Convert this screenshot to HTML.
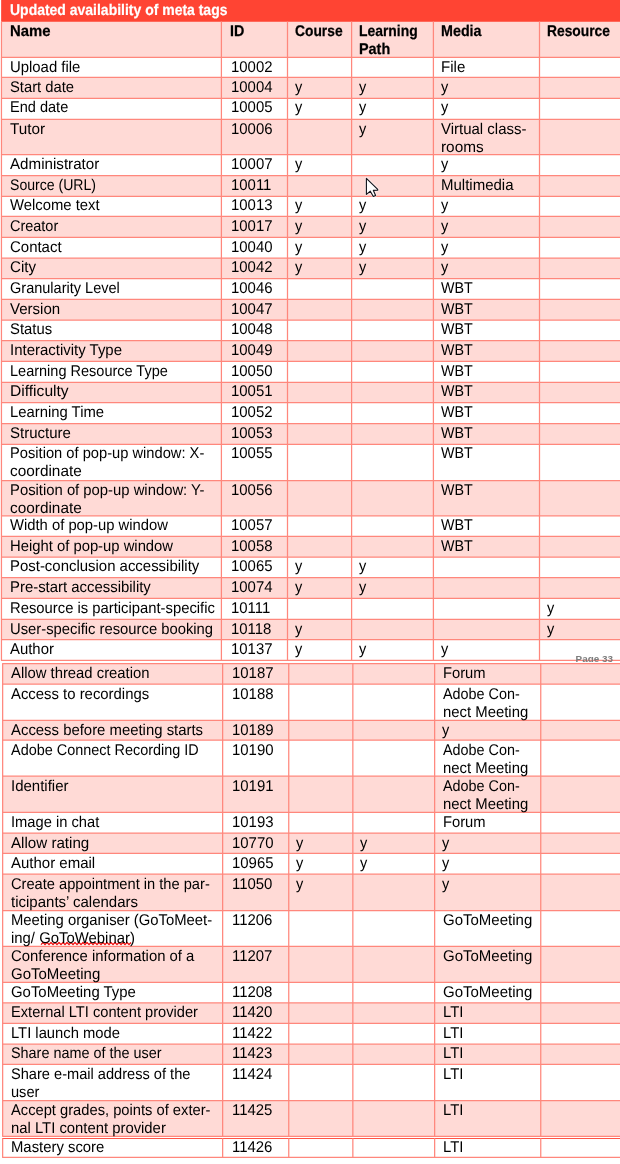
<!DOCTYPE html>
<html lang="en"><head><meta charset="utf-8"><title>Updated availability of meta tags</title>
<style>
html,body{margin:0;padding:0;background:#fff;}
body{width:620px;height:1164px;position:relative;overflow:hidden;
 font-family:"Liberation Sans",sans-serif;font-size:15.5px;color:#000;}
svg.bg{position:absolute;left:0;top:0;}
.t{position:absolute;white-space:nowrap;line-height:18px;height:18px;transform-origin:0 0;text-rendering:geometricPrecision;}
.b{font-weight:bold;color:#000;-webkit-text-stroke:0.25px #000;}
.w{color:#fff;-webkit-text-stroke:0.2px #fff;}
.pg{position:absolute;left:575.6px;top:653px;height:9px;overflow:hidden;font-weight:bold;font-size:9.9px;line-height:12px;color:#7d7d7d;white-space:nowrap;}
</style></head>
<body>
<svg class="bg" width="620" height="1164" viewBox="0 0 620 1164">
<rect x="1.45" y="10.00" width="620.00" height="47.40" fill="#ffdad6"/>
<rect x="1.15" y="0.00" width="620.00" height="21.75" fill="#ff4433"/>
<rect x="1.45" y="77.40" width="618.55" height="20.90" fill="#ffdad6"/>
<rect x="1.45" y="119.40" width="618.55" height="35.30" fill="#ffdad6"/>
<rect x="1.45" y="175.50" width="618.55" height="20.80" fill="#ffdad6"/>
<rect x="1.45" y="216.40" width="618.55" height="21.00" fill="#ffdad6"/>
<rect x="1.45" y="258.00" width="618.55" height="20.50" fill="#ffdad6"/>
<rect x="1.45" y="299.30" width="618.55" height="20.80" fill="#ffdad6"/>
<rect x="1.45" y="340.60" width="618.55" height="20.70" fill="#ffdad6"/>
<rect x="1.45" y="382.30" width="618.55" height="20.40" fill="#ffdad6"/>
<rect x="1.45" y="423.60" width="618.55" height="20.70" fill="#ffdad6"/>
<rect x="1.45" y="480.50" width="618.55" height="35.30" fill="#ffdad6"/>
<rect x="1.45" y="536.40" width="618.55" height="20.80" fill="#ffdad6"/>
<rect x="1.45" y="577.60" width="618.55" height="20.80" fill="#ffdad6"/>
<rect x="1.45" y="619.40" width="618.55" height="20.10" fill="#ffdad6"/>
<line x1="0.95" y1="57.40" x2="620.00" y2="57.40" stroke="#ff877c" stroke-width="1.25"/>
<line x1="0.95" y1="77.40" x2="620.00" y2="77.40" stroke="#ff877c" stroke-width="1.25"/>
<line x1="0.95" y1="98.30" x2="620.00" y2="98.30" stroke="#ff877c" stroke-width="1.25"/>
<line x1="0.95" y1="119.40" x2="620.00" y2="119.40" stroke="#ff877c" stroke-width="1.25"/>
<line x1="0.95" y1="154.70" x2="620.00" y2="154.70" stroke="#ff877c" stroke-width="1.25"/>
<line x1="0.95" y1="175.50" x2="620.00" y2="175.50" stroke="#ff877c" stroke-width="1.25"/>
<line x1="0.95" y1="196.30" x2="620.00" y2="196.30" stroke="#ff877c" stroke-width="1.25"/>
<line x1="0.95" y1="216.40" x2="620.00" y2="216.40" stroke="#ff877c" stroke-width="1.25"/>
<line x1="0.95" y1="237.40" x2="620.00" y2="237.40" stroke="#ff877c" stroke-width="1.25"/>
<line x1="0.95" y1="258.00" x2="620.00" y2="258.00" stroke="#ff877c" stroke-width="1.25"/>
<line x1="0.95" y1="278.50" x2="620.00" y2="278.50" stroke="#ff877c" stroke-width="1.25"/>
<line x1="0.95" y1="299.30" x2="620.00" y2="299.30" stroke="#ff877c" stroke-width="1.25"/>
<line x1="0.95" y1="320.10" x2="620.00" y2="320.10" stroke="#ff877c" stroke-width="1.25"/>
<line x1="0.95" y1="340.60" x2="620.00" y2="340.60" stroke="#ff877c" stroke-width="1.25"/>
<line x1="0.95" y1="361.30" x2="620.00" y2="361.30" stroke="#ff877c" stroke-width="1.25"/>
<line x1="0.95" y1="382.30" x2="620.00" y2="382.30" stroke="#ff877c" stroke-width="1.25"/>
<line x1="0.95" y1="402.70" x2="620.00" y2="402.70" stroke="#ff877c" stroke-width="1.25"/>
<line x1="0.95" y1="423.60" x2="620.00" y2="423.60" stroke="#ff877c" stroke-width="1.25"/>
<line x1="0.95" y1="444.30" x2="620.00" y2="444.30" stroke="#ff877c" stroke-width="1.25"/>
<line x1="0.95" y1="480.50" x2="620.00" y2="480.50" stroke="#ff877c" stroke-width="1.25"/>
<line x1="0.95" y1="515.80" x2="620.00" y2="515.80" stroke="#ff877c" stroke-width="1.25"/>
<line x1="0.95" y1="536.40" x2="620.00" y2="536.40" stroke="#ff877c" stroke-width="1.25"/>
<line x1="0.95" y1="557.20" x2="620.00" y2="557.20" stroke="#ff877c" stroke-width="1.25"/>
<line x1="0.95" y1="577.60" x2="620.00" y2="577.60" stroke="#ff877c" stroke-width="1.25"/>
<line x1="0.95" y1="598.40" x2="620.00" y2="598.40" stroke="#ff877c" stroke-width="1.25"/>
<line x1="0.95" y1="619.40" x2="620.00" y2="619.40" stroke="#ff877c" stroke-width="1.25"/>
<line x1="0.95" y1="639.50" x2="620.00" y2="639.50" stroke="#ff877c" stroke-width="1.25"/>
<line x1="0.95" y1="660.30" x2="620.00" y2="660.30" stroke="#ff877c" stroke-width="1.25"/>
<line x1="1.45" y1="21.50" x2="1.45" y2="660.30" stroke="#ff877c" stroke-width="1.25"/>
<line x1="221.40" y1="21.50" x2="221.40" y2="660.30" stroke="#ff877c" stroke-width="1.25"/>
<line x1="287.50" y1="21.50" x2="287.50" y2="660.30" stroke="#ff877c" stroke-width="1.25"/>
<line x1="351.60" y1="21.50" x2="351.60" y2="660.30" stroke="#ff877c" stroke-width="1.25"/>
<line x1="433.40" y1="21.50" x2="433.40" y2="660.30" stroke="#ff877c" stroke-width="1.25"/>
<line x1="539.50" y1="21.50" x2="539.50" y2="660.30" stroke="#ff877c" stroke-width="1.25"/>
<rect x="2.65" y="663.70" width="617.35" height="20.50" fill="#ffdad6"/>
<rect x="2.65" y="720.30" width="617.35" height="19.90" fill="#ffdad6"/>
<rect x="2.65" y="776.20" width="617.35" height="36.10" fill="#ffdad6"/>
<rect x="2.65" y="833.00" width="617.35" height="20.40" fill="#ffdad6"/>
<rect x="2.65" y="874.20" width="617.35" height="36.30" fill="#ffdad6"/>
<rect x="2.65" y="946.30" width="617.35" height="36.00" fill="#ffdad6"/>
<rect x="2.65" y="1002.90" width="617.35" height="20.50" fill="#ffdad6"/>
<rect x="2.65" y="1044.20" width="617.35" height="20.10" fill="#ffdad6"/>
<rect x="2.65" y="1100.50" width="617.35" height="35.80" fill="#ffdad6"/>
<line x1="2.15" y1="663.70" x2="620.00" y2="663.70" stroke="#ff877c" stroke-width="1.25"/>
<line x1="2.15" y1="684.20" x2="620.00" y2="684.20" stroke="#ff877c" stroke-width="1.25"/>
<line x1="2.15" y1="720.30" x2="620.00" y2="720.30" stroke="#ff877c" stroke-width="1.25"/>
<line x1="2.15" y1="740.20" x2="620.00" y2="740.20" stroke="#ff877c" stroke-width="1.25"/>
<line x1="2.15" y1="776.20" x2="620.00" y2="776.20" stroke="#ff877c" stroke-width="1.25"/>
<line x1="2.15" y1="812.30" x2="620.00" y2="812.30" stroke="#ff877c" stroke-width="1.25"/>
<line x1="2.15" y1="833.00" x2="620.00" y2="833.00" stroke="#ff877c" stroke-width="1.25"/>
<line x1="2.15" y1="853.40" x2="620.00" y2="853.40" stroke="#ff877c" stroke-width="1.25"/>
<line x1="2.15" y1="874.20" x2="620.00" y2="874.20" stroke="#ff877c" stroke-width="1.25"/>
<line x1="2.15" y1="910.50" x2="620.00" y2="910.50" stroke="#ff877c" stroke-width="1.25"/>
<line x1="2.15" y1="946.30" x2="620.00" y2="946.30" stroke="#ff877c" stroke-width="1.25"/>
<line x1="2.15" y1="982.30" x2="620.00" y2="982.30" stroke="#ff877c" stroke-width="1.25"/>
<line x1="2.15" y1="1002.90" x2="620.00" y2="1002.90" stroke="#ff877c" stroke-width="1.25"/>
<line x1="2.15" y1="1023.40" x2="620.00" y2="1023.40" stroke="#ff877c" stroke-width="1.25"/>
<line x1="2.15" y1="1044.20" x2="620.00" y2="1044.20" stroke="#ff877c" stroke-width="1.25"/>
<line x1="2.15" y1="1064.30" x2="620.00" y2="1064.30" stroke="#ff877c" stroke-width="1.25"/>
<line x1="2.15" y1="1100.50" x2="620.00" y2="1100.50" stroke="#ff877c" stroke-width="1.25"/>
<line x1="2.15" y1="1136.30" x2="620.00" y2="1136.30" stroke="#ff877c" stroke-width="1.25"/>
<line x1="2.65" y1="663.70" x2="2.65" y2="1136.30" stroke="#ff877c" stroke-width="1.25"/>
<line x1="222.65" y1="663.70" x2="222.65" y2="1136.30" stroke="#ff877c" stroke-width="1.25"/>
<line x1="288.75" y1="663.70" x2="288.75" y2="1136.30" stroke="#ff877c" stroke-width="1.25"/>
<line x1="352.85" y1="663.70" x2="352.85" y2="1136.30" stroke="#ff877c" stroke-width="1.25"/>
<line x1="434.65" y1="663.70" x2="434.65" y2="1136.30" stroke="#ff877c" stroke-width="1.25"/>
<line x1="540.75" y1="663.70" x2="540.75" y2="1136.30" stroke="#ff877c" stroke-width="1.25"/>
<line x1="2.15" y1="1138.50" x2="620.00" y2="1138.50" stroke="#ff5546" stroke-width="1.1"/>
<line x1="2.15" y1="1157.40" x2="620.00" y2="1157.40" stroke="#ff877c" stroke-width="1.25"/>
<line x1="2.65" y1="1138.35" x2="2.65" y2="1157.40" stroke="#ff877c" stroke-width="1.25"/>
<line x1="222.65" y1="1138.35" x2="222.65" y2="1157.40" stroke="#ff877c" stroke-width="1.25"/>
<line x1="288.75" y1="1138.35" x2="288.75" y2="1157.40" stroke="#ff877c" stroke-width="1.25"/>
<line x1="352.85" y1="1138.35" x2="352.85" y2="1157.40" stroke="#ff877c" stroke-width="1.25"/>
<line x1="434.65" y1="1138.35" x2="434.65" y2="1157.40" stroke="#ff877c" stroke-width="1.25"/>
<line x1="540.75" y1="1138.35" x2="540.75" y2="1157.40" stroke="#ff877c" stroke-width="1.25"/>
<polyline points="41.0,944.70 43.0,942.50 45.0,944.70 47.0,942.50 49.0,944.70 51.0,942.50 53.0,944.70 55.0,942.50 57.0,944.70 59.0,942.50 61.0,944.70 63.0,942.50 65.0,944.70 67.0,942.50 69.0,944.70 71.0,942.50 73.0,944.70 75.0,942.50 77.0,944.70 79.0,942.50 81.0,944.70 83.0,942.50 85.0,944.70 87.0,942.50 89.0,944.70 91.0,942.50 93.0,944.70 95.0,942.50 97.0,944.70 99.0,942.50 101.0,944.70 103.0,942.50 105.0,944.70 107.0,942.50 109.0,944.70 111.0,942.50 113.0,944.70 115.0,942.50 117.0,944.70 119.0,942.50 121.0,944.70 123.0,942.50 125.0,944.70 127.0,942.50 129.0,944.70 131.0,942.50" fill="none" stroke="#f00c0c" stroke-width="1.25" stroke-linejoin="round"/>
</svg>
<div class="pg">Page 33</div>
<div class="t" style="left:10.15px;top:59px;transform:scaleX(0.9606);">Upload file</div>
<div class="t" style="left:230.70px;top:59px;transform:scaleX(0.9637);">10002</div>
<div class="t" style="left:441.40px;top:59px;transform:scaleX(0.9717);">File</div>
<div class="t" style="left:10.15px;top:79px;transform:scaleX(0.9533);">Start date</div>
<div class="t" style="left:230.70px;top:79px;transform:scaleX(0.9637);">10004</div>
<div class="t" style="left:294.90px;top:79px;transform:scaleX(0.9400);">y</div>
<div class="t" style="left:359.00px;top:79px;transform:scaleX(0.9400);">y</div>
<div class="t" style="left:440.80px;top:79px;transform:scaleX(0.9400);">y</div>
<div class="t" style="left:10.15px;top:99px;transform:scaleX(0.9386);">End date</div>
<div class="t" style="left:230.70px;top:99px;transform:scaleX(0.9637);">10005</div>
<div class="t" style="left:294.90px;top:99px;transform:scaleX(0.9400);">y</div>
<div class="t" style="left:359.00px;top:99px;transform:scaleX(0.9400);">y</div>
<div class="t" style="left:440.80px;top:99px;transform:scaleX(0.9400);">y</div>
<div class="t" style="left:10.15px;top:121px;transform:scaleX(0.9856);">Tutor</div>
<div class="t" style="left:230.70px;top:121px;transform:scaleX(0.9637);">10006</div>
<div class="t" style="left:359.00px;top:121px;transform:scaleX(0.9400);">y</div>
<div class="t" style="left:441.40px;top:121px;transform:scaleX(0.9662);">Virtual class-</div>
<div class="t" style="left:441.40px;top:139px;transform:scaleX(0.9900);">rooms</div>
<div class="t" style="left:10.15px;top:156px;transform:scaleX(0.9778);">Administrator</div>
<div class="t" style="left:230.70px;top:156px;transform:scaleX(0.9637);">10007</div>
<div class="t" style="left:294.90px;top:156px;transform:scaleX(0.9400);">y</div>
<div class="t" style="left:440.80px;top:156px;transform:scaleX(0.9400);">y</div>
<div class="t" style="left:10.15px;top:177px;transform:scaleX(0.9083);">Source (URL)</div>
<div class="t" style="left:230.70px;top:177px;transform:scaleX(0.9637);">10011</div>
<div class="t" style="left:441.40px;top:177px;transform:scaleX(0.9680);">Multimedia</div>
<div class="t" style="left:10.15px;top:197px;transform:scaleX(0.9575);">Welcome text</div>
<div class="t" style="left:230.70px;top:197px;transform:scaleX(0.9637);">10013</div>
<div class="t" style="left:294.90px;top:197px;transform:scaleX(0.9400);">y</div>
<div class="t" style="left:359.00px;top:197px;transform:scaleX(0.9400);">y</div>
<div class="t" style="left:440.80px;top:197px;transform:scaleX(0.9400);">y</div>
<div class="t" style="left:10.15px;top:218px;transform:scaleX(0.9332);">Creator</div>
<div class="t" style="left:230.70px;top:218px;transform:scaleX(0.9637);">10017</div>
<div class="t" style="left:294.90px;top:218px;transform:scaleX(0.9400);">y</div>
<div class="t" style="left:359.00px;top:218px;transform:scaleX(0.9400);">y</div>
<div class="t" style="left:440.80px;top:218px;transform:scaleX(0.9400);">y</div>
<div class="t" style="left:10.15px;top:239px;transform:scaleX(0.9655);">Contact</div>
<div class="t" style="left:230.70px;top:239px;transform:scaleX(0.9637);">10040</div>
<div class="t" style="left:294.90px;top:239px;transform:scaleX(0.9400);">y</div>
<div class="t" style="left:359.00px;top:239px;transform:scaleX(0.9400);">y</div>
<div class="t" style="left:440.80px;top:239px;transform:scaleX(0.9400);">y</div>
<div class="t" style="left:10.15px;top:259px;transform:scaleX(0.9742);">City</div>
<div class="t" style="left:230.70px;top:259px;transform:scaleX(0.9637);">10042</div>
<div class="t" style="left:294.90px;top:259px;transform:scaleX(0.9400);">y</div>
<div class="t" style="left:359.00px;top:259px;transform:scaleX(0.9400);">y</div>
<div class="t" style="left:440.80px;top:259px;transform:scaleX(0.9400);">y</div>
<div class="t" style="left:10.15px;top:280px;transform:scaleX(0.9369);">Granularity Level</div>
<div class="t" style="left:230.70px;top:280px;transform:scaleX(0.9637);">10046</div>
<div class="t" style="left:441.40px;top:280px;transform:scaleX(0.9231);">WBT</div>
<div class="t" style="left:10.15px;top:301px;transform:scaleX(0.9707);">Version</div>
<div class="t" style="left:230.70px;top:301px;transform:scaleX(0.9637);">10047</div>
<div class="t" style="left:441.40px;top:301px;transform:scaleX(0.9231);">WBT</div>
<div class="t" style="left:10.15px;top:321px;transform:scaleX(0.9571);">Status</div>
<div class="t" style="left:230.70px;top:321px;transform:scaleX(0.9637);">10048</div>
<div class="t" style="left:441.40px;top:321px;transform:scaleX(0.9231);">WBT</div>
<div class="t" style="left:10.15px;top:342px;transform:scaleX(0.9654);">Interactivity Type</div>
<div class="t" style="left:230.70px;top:342px;transform:scaleX(0.9637);">10049</div>
<div class="t" style="left:441.40px;top:342px;transform:scaleX(0.9231);">WBT</div>
<div class="t" style="left:10.15px;top:363px;transform:scaleX(0.9361);">Learning Resource Type</div>
<div class="t" style="left:230.70px;top:363px;transform:scaleX(0.9637);">10050</div>
<div class="t" style="left:441.40px;top:363px;transform:scaleX(0.9231);">WBT</div>
<div class="t" style="left:10.15px;top:383px;transform:scaleX(1.0064);">Difficulty</div>
<div class="t" style="left:230.70px;top:383px;transform:scaleX(0.9637);">10051</div>
<div class="t" style="left:441.40px;top:383px;transform:scaleX(0.9231);">WBT</div>
<div class="t" style="left:10.15px;top:404px;transform:scaleX(0.9574);">Learning Time</div>
<div class="t" style="left:230.70px;top:404px;transform:scaleX(0.9637);">10052</div>
<div class="t" style="left:441.40px;top:404px;transform:scaleX(0.9231);">WBT</div>
<div class="t" style="left:10.15px;top:425px;transform:scaleX(0.9673);">Structure</div>
<div class="t" style="left:230.70px;top:425px;transform:scaleX(0.9637);">10053</div>
<div class="t" style="left:441.40px;top:425px;transform:scaleX(0.9231);">WBT</div>
<div class="t" style="left:10.15px;top:445px;transform:scaleX(0.9474);">Position of pop-up window: X-</div>
<div class="t" style="left:10.15px;top:463px;transform:scaleX(0.9912);">coordinate</div>
<div class="t" style="left:230.70px;top:445px;transform:scaleX(0.9637);">10055</div>
<div class="t" style="left:441.40px;top:445px;transform:scaleX(0.9231);">WBT</div>
<div class="t" style="left:10.15px;top:482px;transform:scaleX(0.9567);">Position of pop-up window: Y-</div>
<div class="t" style="left:10.15px;top:500px;transform:scaleX(0.9912);">coordinate</div>
<div class="t" style="left:230.70px;top:482px;transform:scaleX(0.9637);">10056</div>
<div class="t" style="left:441.40px;top:482px;transform:scaleX(0.9231);">WBT</div>
<div class="t" style="left:10.15px;top:517px;transform:scaleX(0.9547);">Width of pop-up window</div>
<div class="t" style="left:230.70px;top:517px;transform:scaleX(0.9637);">10057</div>
<div class="t" style="left:441.40px;top:517px;transform:scaleX(0.9231);">WBT</div>
<div class="t" style="left:10.15px;top:538px;transform:scaleX(0.9557);">Height of pop-up window</div>
<div class="t" style="left:230.70px;top:538px;transform:scaleX(0.9637);">10058</div>
<div class="t" style="left:441.40px;top:538px;transform:scaleX(0.9231);">WBT</div>
<div class="t" style="left:10.15px;top:558px;transform:scaleX(0.9636);">Post-conclusion accessibility</div>
<div class="t" style="left:230.70px;top:558px;transform:scaleX(0.9637);">10065</div>
<div class="t" style="left:294.90px;top:558px;transform:scaleX(0.9400);">y</div>
<div class="t" style="left:359.00px;top:558px;transform:scaleX(0.9400);">y</div>
<div class="t" style="left:10.15px;top:579px;transform:scaleX(0.9617);">Pre-start accessibility</div>
<div class="t" style="left:230.70px;top:579px;transform:scaleX(0.9637);">10074</div>
<div class="t" style="left:294.90px;top:579px;transform:scaleX(0.9400);">y</div>
<div class="t" style="left:359.00px;top:579px;transform:scaleX(0.9400);">y</div>
<div class="t" style="left:10.15px;top:600px;transform:scaleX(0.9552);">Resource is participant-specific</div>
<div class="t" style="left:230.70px;top:600px;transform:scaleX(0.9637);">10111</div>
<div class="t" style="left:546.90px;top:600px;transform:scaleX(0.9400);">y</div>
<div class="t" style="left:10.15px;top:621px;transform:scaleX(0.9542);">User-specific resource booking</div>
<div class="t" style="left:230.70px;top:621px;transform:scaleX(0.9637);">10118</div>
<div class="t" style="left:294.90px;top:621px;transform:scaleX(0.9400);">y</div>
<div class="t" style="left:546.90px;top:621px;transform:scaleX(0.9400);">y</div>
<div class="t" style="left:10.15px;top:641px;transform:scaleX(0.9610);">Author</div>
<div class="t" style="left:230.70px;top:641px;transform:scaleX(0.9637);">10137</div>
<div class="t" style="left:294.90px;top:641px;transform:scaleX(0.9400);">y</div>
<div class="t" style="left:359.00px;top:641px;transform:scaleX(0.9400);">y</div>
<div class="t" style="left:440.80px;top:641px;transform:scaleX(0.9400);">y</div>
<div class="t" style="left:11.35px;top:665px;transform:scaleX(0.9568);">Allow thread creation</div>
<div class="t" style="left:231.95px;top:665px;transform:scaleX(0.9637);">10187</div>
<div class="t" style="left:442.65px;top:665px;transform:scaleX(0.9510);">Forum</div>
<div class="t" style="left:11.35px;top:686px;transform:scaleX(0.9603);">Access to recordings</div>
<div class="t" style="left:231.95px;top:686px;transform:scaleX(0.9637);">10188</div>
<div class="t" style="left:442.65px;top:686px;transform:scaleX(0.9269);">Adobe Con-</div>
<div class="t" style="left:442.65px;top:704px;transform:scaleX(0.9598);">nect Meeting</div>
<div class="t" style="left:11.35px;top:722px;transform:scaleX(0.9609);">Access before meeting starts</div>
<div class="t" style="left:231.95px;top:722px;transform:scaleX(0.9637);">10189</div>
<div class="t" style="left:442.05px;top:722px;transform:scaleX(0.9400);">y</div>
<div class="t" style="left:11.35px;top:742px;transform:scaleX(0.9310);">Adobe Connect Recording ID</div>
<div class="t" style="left:231.95px;top:742px;transform:scaleX(0.9637);">10190</div>
<div class="t" style="left:442.65px;top:742px;transform:scaleX(0.9269);">Adobe Con-</div>
<div class="t" style="left:442.65px;top:760px;transform:scaleX(0.9598);">nect Meeting</div>
<div class="t" style="left:11.35px;top:778px;transform:scaleX(0.9667);">Identifier</div>
<div class="t" style="left:231.95px;top:778px;transform:scaleX(0.9637);">10191</div>
<div class="t" style="left:442.65px;top:778px;transform:scaleX(0.9269);">Adobe Con-</div>
<div class="t" style="left:442.65px;top:796px;transform:scaleX(0.9598);">nect Meeting</div>
<div class="t" style="left:11.35px;top:814px;transform:scaleX(0.9480);">Image in chat</div>
<div class="t" style="left:231.95px;top:814px;transform:scaleX(0.9637);">10193</div>
<div class="t" style="left:442.65px;top:814px;transform:scaleX(0.9510);">Forum</div>
<div class="t" style="left:11.35px;top:835px;transform:scaleX(0.9771);">Allow rating</div>
<div class="t" style="left:231.95px;top:835px;transform:scaleX(0.9637);">10770</div>
<div class="t" style="left:296.15px;top:835px;transform:scaleX(0.9400);">y</div>
<div class="t" style="left:360.25px;top:835px;transform:scaleX(0.9400);">y</div>
<div class="t" style="left:442.05px;top:835px;transform:scaleX(0.9400);">y</div>
<div class="t" style="left:11.35px;top:855px;transform:scaleX(0.9674);">Author email</div>
<div class="t" style="left:231.95px;top:855px;transform:scaleX(0.9637);">10965</div>
<div class="t" style="left:296.15px;top:855px;transform:scaleX(0.9400);">y</div>
<div class="t" style="left:360.25px;top:855px;transform:scaleX(0.9400);">y</div>
<div class="t" style="left:442.05px;top:855px;transform:scaleX(0.9400);">y</div>
<div class="t" style="left:11.35px;top:876px;transform:scaleX(0.9455);">Create appointment in the par-</div>
<div class="t" style="left:11.35px;top:894px;transform:scaleX(0.9681);">ticipants’ calendars</div>
<div class="t" style="left:231.95px;top:876px;transform:scaleX(0.9637);">11050</div>
<div class="t" style="left:296.15px;top:876px;transform:scaleX(0.9400);">y</div>
<div class="t" style="left:442.05px;top:876px;transform:scaleX(0.9400);">y</div>
<div class="t" style="left:11.35px;top:912px;transform:scaleX(0.9570);">Meeting organiser (GoToMeet-</div>
<div class="t" style="left:11.35px;top:930px;transform:scaleX(0.9607);">ing/ GoToWebinar)</div>
<div class="t" style="left:231.95px;top:912px;transform:scaleX(0.9637);">11206</div>
<div class="t" style="left:442.65px;top:912px;transform:scaleX(0.9679);">GoToMeeting</div>
<div class="t" style="left:11.35px;top:948px;transform:scaleX(0.9586);">Conference information of a</div>
<div class="t" style="left:11.35px;top:966px;transform:scaleX(0.9679);">GoToMeeting</div>
<div class="t" style="left:231.95px;top:948px;transform:scaleX(0.9637);">11207</div>
<div class="t" style="left:442.65px;top:948px;transform:scaleX(0.9679);">GoToMeeting</div>
<div class="t" style="left:11.35px;top:984px;transform:scaleX(0.9618);">GoToMeeting Type</div>
<div class="t" style="left:231.95px;top:984px;transform:scaleX(0.9637);">11208</div>
<div class="t" style="left:442.65px;top:984px;transform:scaleX(0.9679);">GoToMeeting</div>
<div class="t" style="left:11.35px;top:1004px;transform:scaleX(0.9447);">External LTI content provider</div>
<div class="t" style="left:231.95px;top:1004px;transform:scaleX(0.9637);">11420</div>
<div class="t" style="left:442.65px;top:1004px;transform:scaleX(0.9606);">LTI</div>
<div class="t" style="left:11.35px;top:1025px;transform:scaleX(0.9536);">LTI launch mode</div>
<div class="t" style="left:231.95px;top:1025px;transform:scaleX(0.9637);">11422</div>
<div class="t" style="left:442.65px;top:1025px;transform:scaleX(0.9606);">LTI</div>
<div class="t" style="left:11.35px;top:1045px;transform:scaleX(0.9288);">Share name of the user</div>
<div class="t" style="left:231.95px;top:1045px;transform:scaleX(0.9637);">11423</div>
<div class="t" style="left:442.65px;top:1045px;transform:scaleX(0.9606);">LTI</div>
<div class="t" style="left:11.35px;top:1066px;transform:scaleX(0.9422);">Share e-mail address of the</div>
<div class="t" style="left:11.35px;top:1084px;transform:scaleX(0.9421);">user</div>
<div class="t" style="left:231.95px;top:1066px;transform:scaleX(0.9637);">11424</div>
<div class="t" style="left:442.65px;top:1066px;transform:scaleX(0.9606);">LTI</div>
<div class="t" style="left:11.35px;top:1102px;transform:scaleX(0.9488);">Accept grades, points of exter-</div>
<div class="t" style="left:11.35px;top:1120px;transform:scaleX(0.9575);">nal LTI content provider</div>
<div class="t" style="left:231.95px;top:1102px;transform:scaleX(0.9637);">11425</div>
<div class="t" style="left:442.65px;top:1102px;transform:scaleX(0.9606);">LTI</div>
<div class="t" style="left:11.35px;top:1139px;transform:scaleX(0.9583);">Mastery score</div>
<div class="t" style="left:231.95px;top:1139px;transform:scaleX(0.9637);">11426</div>
<div class="t" style="left:442.65px;top:1139px;transform:scaleX(0.9606);">LTI</div>
<div class="t b w" style="left:10.45px;top:2px;transform:scaleX(0.9016);">Updated availability of meta tags</div>
<div class="t b" style="left:10.15px;top:23px;transform:scaleX(0.9589);">Name</div>
<div class="t b" style="left:230.10px;top:23px;transform:scaleX(0.9224);">ID</div>
<div class="t b" style="left:295.20px;top:23px;transform:scaleX(0.8907);">Course</div>
<div class="t b" style="left:359.30px;top:23px;transform:scaleX(0.8958);">Learning</div>
<div class="t b" style="left:359.30px;top:41px;transform:scaleX(0.9287);">Path</div>
<div class="t b" style="left:441.30px;top:23px;transform:scaleX(0.9233);">Media</div>
<div class="t b" style="left:547.40px;top:23px;transform:scaleX(0.8914);">Resource</div>
<svg class="cur" style="position:absolute;left:360px;top:174px" width="24" height="26" viewBox="0 0 24 26">
<path d="M6.4 4.3 L6.4 20.4 L10.3 17.2 L13.3 22.5 L15.6 21.5 L13.4 16.4 L17.7 16.3 L17.7 15.4 Z" fill="none" stroke="#ffffff" stroke-opacity="0.55" stroke-width="2.6" stroke-linejoin="round"/>
<path d="M6.4 4.3 L6.4 20.4 L10.3 17.2 L13.3 22.5 L15.6 21.5 L13.4 16.4 L17.7 16.3 L17.7 15.4 Z" fill="#ffffff" stroke="#14141c" stroke-width="1.15" stroke-linejoin="round"/></svg>
</body></html>
